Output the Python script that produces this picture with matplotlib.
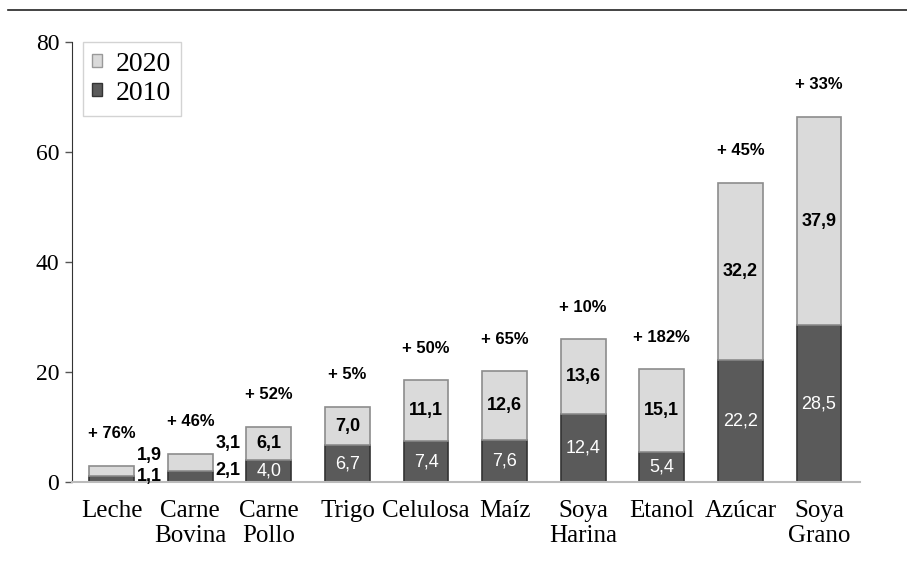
import matplotlib.pyplot as plt
import matplotlib.lines as mlines
from matplotlib.patches import Patch

# Production figures per product (2010 base and 2020 segment)
products = ['Leche', 'Carne\nBovina', 'Carne\nPollo', 'Trigo', 'Celulosa', 'Maíz',
            'Soya\nHarina', 'Etanol', 'Azúcar', 'Soya\nGrano']
vals_2010 = [1.1, 2.1, 4.0, 6.7, 7.4, 7.6, 12.4, 5.4, 22.2, 28.5]
vals_2020 = [1.9, 3.1, 6.1, 7.0, 11.1, 12.6, 13.6, 15.1, 32.2, 37.9]
growth = ['+ 76%', '+ 46%', '+ 52%', '+ 5%', '+ 50%', '+ 65%', '+ 10%', '+ 182%', '+ 45%', '+ 33%']
yticks = [0, 20, 40, 60, 80]

light = '#dadada'
dark = '#5a5a5a'
serif = ['Liberation Serif', 'DejaVu Serif']
sans = ['Liberation Sans', 'DejaVu Sans']

def fmt(v):
    return f'{v:.1f}'.replace('.', ',')

fig = plt.figure(figsize=(9.07, 5.83), dpi=100)
ax = fig.add_axes([0.079, 0.173, 0.869, 0.755])

x = list(range(len(products)))
w = 0.57
ax.bar(x, vals_2010, width=w, color=dark, edgecolor='#333333', linewidth=1.2, zorder=2)
ax.bar(x, vals_2020, width=w, bottom=vals_2010, color=light, edgecolor='#8c8c8c',
       linewidth=1.2, zorder=2)

for i in x:
    lo, hi = vals_2010[i], vals_2020[i]
    top = lo + hi
    if top < 8:
        # small bars: values written beside the bar
        ax.annotate(fmt(lo), (i + w / 2, lo), xytext=(2, 0), textcoords='offset points',
                    ha='left', va='center', fontsize=13, fontweight='bold', family=sans)
        ax.annotate(fmt(hi), (i + w / 2, top), xytext=(2, 7), textcoords='offset points',
                    ha='left', va='center', fontsize=13, fontweight='bold', family=sans)
    else:
        ax.text(i, lo / 2, fmt(lo), ha='center', va='center', color='white',
                fontsize=13, family=sans)
        ax.text(i, lo + hi / 2, fmt(hi), ha='center', va='center', color='black',
                fontsize=13, fontweight='bold', family=sans)
    ax.annotate(growth[i], (i, top), xytext=(0, 23), textcoords='offset points',
                ha='center', va='center', fontsize=12, fontweight='bold', family=sans)

ax.set_xlim(-0.51, 9.52)
ax.set_ylim(0, 80)
ax.set_yticks(yticks)
ax.set_yticklabels([str(t) for t in yticks], family=serif, fontsize=17)
ax.set_xticks(x)
ax.set_xticklabels(products, family=serif, fontsize=18, linespacing=1.15)
ax.tick_params(axis='x', length=0, pad=13)
ax.tick_params(axis='y', length=5, width=1, color='#555555', pad=4)

for s in ['top', 'right']:
    ax.spines[s].set_visible(False)
ax.spines['left'].set_color('#333333')
ax.spines['bottom'].set_color('#bbbbbb')
ax.spines['bottom'].set_linewidth(1.5)

handles = [Patch(facecolor=light, edgecolor='#999999', label='2020'),
           Patch(facecolor=dark, edgecolor='#333333', label='2010')]
leg = ax.legend(handles=handles, loc='upper left', bbox_to_anchor=(0.014, 1.0),
                borderaxespad=0, prop={'family': serif, 'size': 20},
                handlelength=0.35, handleheight=0.35, handletextpad=0.5,
                fancybox=False, edgecolor='#c8c8c8', borderpad=0.35, labelspacing=0.15)
leg.get_frame().set_linewidth(1.0)

# rule across the top of the page
fig.add_artist(mlines.Line2D([0.009, 1.0], [0.983, 0.983], color='#222222', linewidth=1.2))

fig.savefig('out.png', dpi=100)
